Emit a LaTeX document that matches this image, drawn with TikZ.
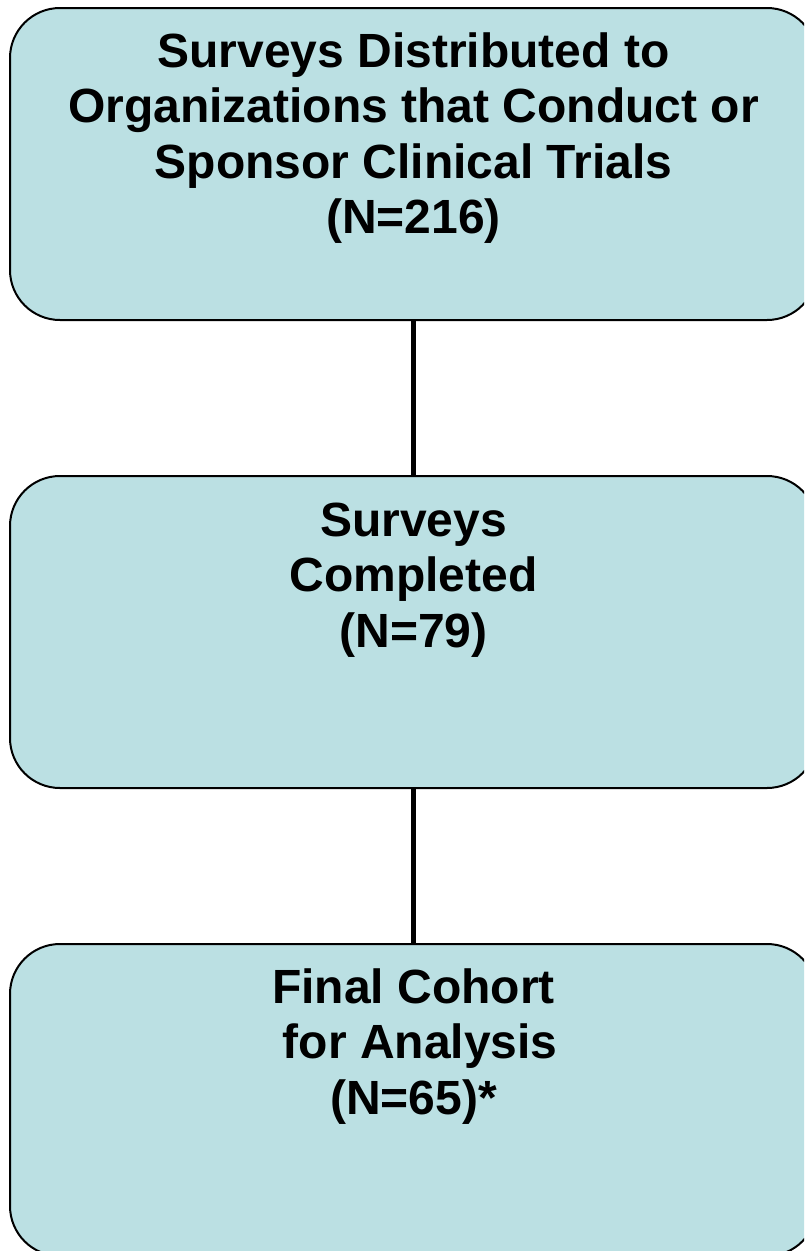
\documentclass[tikz,border=0pt]{standalone}
\usepackage{fontspec}
\setmainfont{Liberation Sans}
\definecolor{boxfill}{RGB}{187,224,227}
\tikzset{
  flowbox/.style={draw=black, line width=2pt, fill=boxfill, rounded corners=50pt,
    minimum width=807pt, minimum height=312pt, inner sep=0pt, outer sep=0pt},
  boxtext/.style={anchor=north, align=center, inner sep=0pt,
    font=\fontsize{48}{55.5}\selectfont\bfseries},
  link/.style={draw=black, line width=4.5pt}
}
\begin{document}
\begin{tikzpicture}[x=1pt,y=-1pt]
\useasboundingbox (0,0) rectangle (804,1251);
\clip (0,0) rectangle (804,1251);
\node[flowbox] (b1) at (413.5,164) {};
\node[flowbox] (b2) at (413.5,632) {};
\node[flowbox] (b3) at (413.5,1100) {};
\draw[link] (b1.south) -- (b2.north);
\draw[link] (b2.south) -- (b3.north);
\node[boxtext] (t1) at ([yshift=-19pt]b1.north) {\rule{0pt}{40pt}Surveys Distributed to\\Organizations that Conduct or\\Sponsor Clinical Trials\\(N=216)};
\node[boxtext] (t2) at ([yshift=-20pt]b2.north) {\rule{0pt}{40pt}Surveys\\Completed\\(N=79)};
\node[boxtext] (t3) at ([yshift=-19pt]b3.north) {\rule{0pt}{40pt}Final Cohort\\\hspace*{0.278em}for Analysis\\(N=65)*};
\end{tikzpicture}
\end{document}
